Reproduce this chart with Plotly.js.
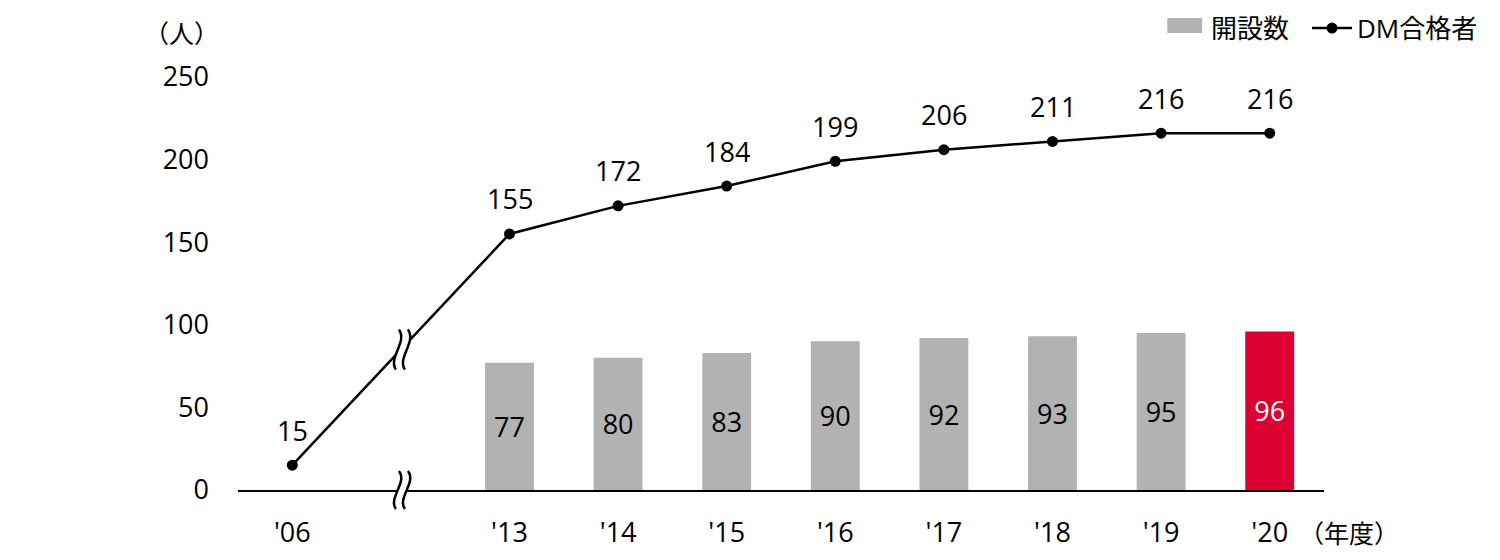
<!DOCTYPE html>
<html><head><meta charset="utf-8">
<script src="https://cdn.plot.ly/plotly-3.0.1.min.js"></script>
<style>html,body{margin:0;padding:0;background:#fff}#chart{width:1500px;height:560px}</style>
</head><body><div id="chart"></div>
<script>
const tickLabels = ["'06", "", "'13", "'14", "'15", "'16", "'17", "'18", "'19", "'20"];
const lineX = [0, 2, 3, 4, 5, 6, 7, 8, 9];
const lineValues = [15, 155, 172, 184, 199, 206, 211, 216, 216];
const barX = [2, 3, 4, 5, 6, 7, 8, 9];
const barValues = [77, 80, 83, 90, 92, 93, 95, 96];
const seriesNames = ["開設数", "DM合格者"];
const barColors = ["#b2b2b2","#b2b2b2","#b2b2b2","#b2b2b2","#b2b2b2","#b2b2b2","#b2b2b2","#dc0032"];
const barTextColors = ["#000","#000","#000","#000","#000","#000","#000","#fff"];
const breakIndex = 1;
const yUnit = "（人）";
const xUnit = "（年度）";

const FONT = "Open Sans, Noto Sans CJK JP, sans-serif";
const NUM = 27;

const traces = [
  {type:'bar', x: barX, y: barValues, name: seriesNames[0], width: 0.45,
   marker:{color: barColors}, text: barValues.map(String), textposition:'inside',
   insidetextanchor:'middle', textangle:0, constraintext:'none',
   textfont:{family:FONT, size:NUM, color: barTextColors}, showlegend:false, hoverinfo:'skip'},
  {type:'scatter', mode:'lines+markers', x: lineX, y: lineValues, name: seriesNames[1],
   line:{color:'#000', width:2.5}, marker:{color:'#000', size:11}, showlegend:false, cliponaxis:false}
];

const annotations = lineX.map((x,i)=>({x:x, y:lineValues[i], xref:'x', yref:'y', text:String(lineValues[i]),
  showarrow:false, yshift:35, xanchor:'center', yanchor:'middle', font:{family:FONT, size:NUM, color:'#000'}}));
function paperText(x, y, text, xanchor, size){
  return {xref:'paper', yref:'paper', x:x, y:y, text:text, showarrow:false, xanchor:xanchor, yanchor:'middle',
    font:{family:FONT, size:size, color:'#000'}};
}
annotations.push(paperText(-0.0524, 1.106, yUnit, 'center', 25));
annotations.push(paperText(1.0230, -0.1041, xUnit, 'center', 25));
annotations.push(paperText(0.8942, 1.1186, seriesNames[0], 'left', 26));
annotations.push(paperText(1.0285, 1.1186, seriesNames[1], 'left', 26));

function breakShapes(yref, yVal, h){
  const c1 = `M -2,${h} C 7,${h*0.4} -13,${-h*0.4} -5,${-h}`;
  const c2 = `M 7,${h} C 16,${h*0.4} -4,${-h*0.4} 4,${-h}`;
  const fill = `M -2,${h} C 7,${h*0.4} -13,${-h*0.4} -5,${-h} L 4,${-h} C -4,${-h*0.4} 16,${h*0.4} 7,${h} Z`;
  const base = {type:'path', xref:'x', yref:yref, xsizemode:'pixel', ysizemode:'pixel',
    xanchor: breakIndex, yanchor: yVal, layer:'above'};
  return [
    Object.assign({}, base, {path: fill, fillcolor:'#fff', line:{width:0}}),
    Object.assign({}, base, {path: c1, line:{color:'#000', width:2.5}}),
    Object.assign({}, base, {path: c2, line:{color:'#000', width:2.5}})
  ];
}
const yBreak = (lineValues[0] + lineValues[1]) / 2;
let shapes = [].concat(breakShapes('paper', 0, 19), breakShapes('y', yBreak, 20));
shapes.push({type:'rect', xref:'paper', yref:'paper', x0:0.8557, x1:0.8878, y0:1.1065, y1:1.1429,
  fillcolor:barColors[0], line:{width:0}});
shapes.push({type:'line', xref:'paper', yref:'paper', x0:0.9890, x1:1.0258, y0:1.1186, y1:1.1186,
  line:{color:'#000', width:2.5}});
shapes.push({type:'circle', xref:'paper', yref:'paper', xsizemode:'pixel', ysizemode:'pixel',
  xanchor:1.0074, yanchor:1.1186, x0:-5.5, x1:5.5, y0:-5.5, y1:5.5, fillcolor:'#000', line:{width:0}});

const layout = {
  width:1500, height:560,
  margin:{l:238, r:176, t:77, b:70},
  paper_bgcolor:'#fff', plot_bgcolor:'#fff',
  showlegend:false,
  font:{family:FONT, size:NUM, color:'#000'},
  xaxis:{type:'linear', range:[-0.5, 9.5], tickvals: tickLabels.map((_,i)=>i), ticktext: tickLabels,
    showgrid:false, zeroline:false, showline:true, linecolor:'#000', linewidth:2,
    ticks:'', ticklabelstandoff:18, tickfont:{family:FONT, size:NUM, color:'#000'}, fixedrange:true},
  yaxis:{range:[0, 250], tickvals:[0,50,100,150,200,250], showgrid:false, zeroline:false, showline:false,
    ticks:'', ticklabelstandoff:28, tickfont:{family:FONT, size:NUM, color:'#000'}, fixedrange:true},
  annotations: annotations,
  shapes: shapes
};
Plotly.newPlot('chart', traces, layout, {staticPlot:true, displayModeBar:false});
</script></body></html>
